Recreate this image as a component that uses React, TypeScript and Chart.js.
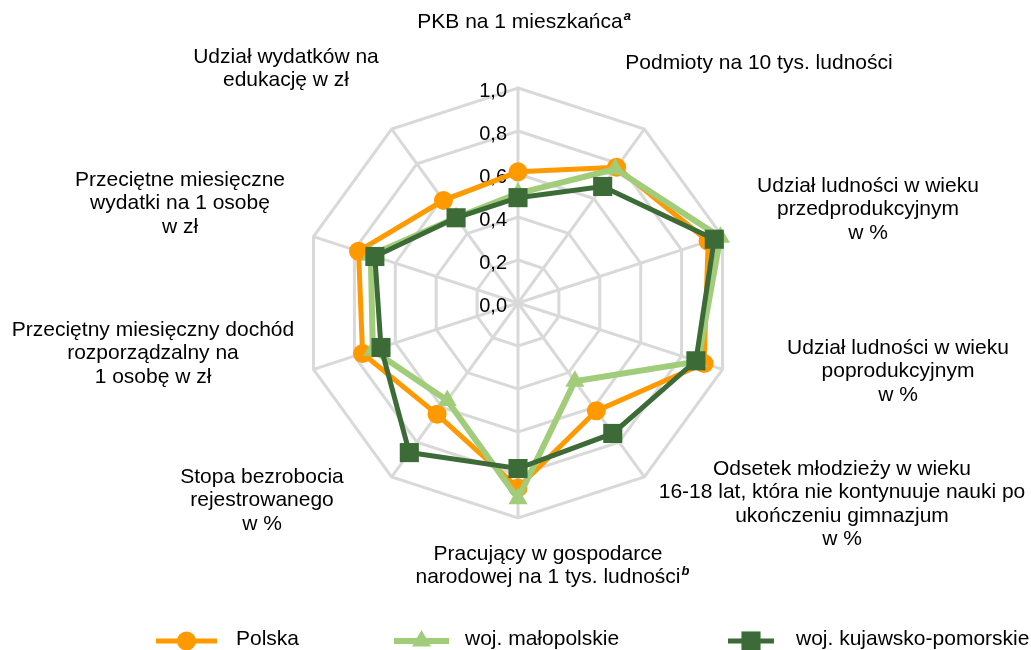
import React, { useEffect, useRef } from "react";
import { Chart, registerables } from "chart.js";

Chart.register(...registerables);

// ---- data ----
const categoryLines: string[][] = [
  ["PKB na 1 mieszkańca"],
  ["Podmioty na 10 tys. ludności"],
  ["Udział ludności w wieku", "przedprodukcyjnym", "w %"],
  ["Udział ludności w wieku", "poprodukcyjnym", "w %"],
  ["Odsetek młodzieży w wieku", "16-18 lat, która nie kontynuuje nauki po", "ukończeniu gimnazjum", "w %"],
  ["Pracujący w gospodarce", "narodowej na 1 tys. ludności"],
  ["Stopa bezrobocia", "rejestrowanego", "w %"],
  ["Przeciętny miesięczny dochód", "rozporządzalny na", "1 osobę w zł"],
  ["Przeciętne miesięczne", "wydatki na 1 osobę", "w zł"],
  ["Udział wydatków na", "edukację w zł"],
];
const categoryNotes: string[] = ["a", "", "", "", "", "b", "", "", "", ""];

const seriesNames = ["Polska", "woj. małopolskie", "woj. kujawsko-pomorskie"];
const polska = [0.61, 0.78, 0.93, 0.91, 0.62, 0.86, 0.64, 0.76, 0.78, 0.59];
const malopolskie = [0.51, 0.77, 0.99, 0.88, 0.45, 0.91, 0.56, 0.71, 0.72, 0.49];
const kujawskoPomorskie = [0.49, 0.67, 0.96, 0.87, 0.75, 0.77, 0.86, 0.67, 0.7, 0.49];

const tickValues = [0, 0.2, 0.4, 0.6, 0.8, 1.0];
const tickLabels = ["0,0", "0,2", "0,4", "0,6", "0,8", "1,0"];

// ---- styles / layout ----
const FONT = "'Liberation Sans', Arial, sans-serif";
const COLORS = ["#FF9900", "#A1CD7B", "#3C6B37"];
const LINE_WIDTHS = [5, 6, 5];
const POINT_STYLES = ["circle", "triangle", "rect"];
const POINT_RADII = [9.5, 11, 13.5];

// first-line centre of each axis title
const LABEL_POS = [
  { x: 520, y: 22 },
  { x: 759, y: 63 },
  { x: 868, y: 186 },
  { x: 898, y: 348 },
  { x: 842, y: 469 },
  { x: 548, y: 554 },
  { x: 262, y: 477 },
  { x: 153, y: 330 },
  { x: 180, y: 180 },
  { x: 286, y: 57 },
];
const LINE_H = 23.5;

const LEGEND_POS = [
  { x1: 156, x2: 217, text: 236 },
  { x1: 394, x2: 449, text: 465 },
  { x1: 728, x2: 774, text: 796 },
];
const LEGEND_Y = 641;

function drawMarker(ctx: CanvasRenderingContext2D, style: string, x: number, y: number, r: number, color: string) {
  ctx.save();
  ctx.fillStyle = color;
  ctx.beginPath();
  if (style === "circle") {
    ctx.arc(x, y, r, 0, Math.PI * 2);
  } else if (style === "triangle") {
    ctx.moveTo(x, y - r);
    ctx.lineTo(x + r * Math.sin(Math.PI / 3), y + r * 0.5);
    ctx.lineTo(x - r * Math.sin(Math.PI / 3), y + r * 0.5);
    ctx.closePath();
  } else {
    const s = r * Math.SQRT1_2;
    ctx.rect(x - s, y - s, 2 * s, 2 * s);
  }
  ctx.fill();
  ctx.restore();
}

const decorPlugin = {
  id: "decor",
  beforeDatasetsDraw(chart: any) {
    const ctx: CanvasRenderingContext2D = chart.ctx;
    const scale = chart.scales.r;
    ctx.save();
    ctx.font = `20px ${FONT}`;
    ctx.fillStyle = "#000";
    ctx.textAlign = "right";
    ctx.textBaseline = "middle";
    tickValues.forEach((v, i) => {
      const y = scale.yCenter - scale.getDistanceFromCenterForValue(v);
      ctx.fillText(tickLabels[i], scale.xCenter - 11, y + 3);
    });
    ctx.restore();
  },
  afterDraw(chart: any) {
    const ctx: CanvasRenderingContext2D = chart.ctx;
    ctx.save();
    ctx.fillStyle = "#000";
    ctx.textBaseline = "middle";
    categoryLines.forEach((lines, i) => {
      const p = LABEL_POS[i];
      lines.forEach((line, j) => {
        ctx.font = `21px ${FONT}`;
        ctx.textAlign = "center";
        const y = p.y + j * LINE_H;
        ctx.fillText(line, p.x, y);
        if (j === lines.length - 1 && categoryNotes[i]) {
          const w = ctx.measureText(line).width;
          ctx.font = `italic bold 13px ${FONT}`;
          ctx.textAlign = "left";
          ctx.fillText(categoryNotes[i], p.x + w / 2 + 1, y - 6);
        }
      });
    });
    // legend
    seriesNames.forEach((name, i) => {
      const lp = LEGEND_POS[i];
      ctx.strokeStyle = COLORS[i];
      ctx.lineWidth = LINE_WIDTHS[i];
      ctx.beginPath();
      ctx.moveTo(lp.x1, LEGEND_Y);
      ctx.lineTo(lp.x2, LEGEND_Y);
      ctx.stroke();
      drawMarker(ctx, POINT_STYLES[i], (lp.x1 + lp.x2) / 2, LEGEND_Y, POINT_RADII[i], COLORS[i]);
      ctx.font = `21px ${FONT}`;
      ctx.textAlign = "left";
      ctx.fillStyle = "#000";
      ctx.fillText(name, lp.text, LEGEND_Y - 2);
    });
    ctx.restore();
  },
};

export default function App() {
  const ref = useRef<HTMLCanvasElement | null>(null);

  useEffect(() => {
    if (!ref.current) return;
    const seriesData = [polska, malopolskie, kujawskoPomorskie];
    const chart = new Chart(ref.current, {
      type: "radar",
      data: {
        labels: categoryLines.map((l) => l.join(" ")),
        datasets: seriesData.map((d, i) => ({
          label: seriesNames[i],
          data: d,
          borderColor: COLORS[i],
          backgroundColor: COLORS[i],
          borderWidth: LINE_WIDTHS[i],
          fill: false,
          tension: 0,
          pointStyle: POINT_STYLES[i] as any,
          pointRadius: POINT_RADII[i],
          pointBackgroundColor: COLORS[i],
          pointBorderColor: COLORS[i],
          pointBorderWidth: 0,
          order: 3 - i,
        })),
      },
      options: {
        responsive: true,
        maintainAspectRatio: false,
        animation: false,
        layout: { padding: { left: 303, right: 298, top: 88, bottom: 132 } },
        plugins: {
          legend: { display: false },
          tooltip: { enabled: false },
        },
        scales: {
          r: {
            min: 0,
            max: 1,
            ticks: { display: false, stepSize: 0.2 },
            grid: { color: "#D9D9D9", lineWidth: 3 },
            angleLines: { color: "#D9D9D9", lineWidth: 3 },
            pointLabels: { display: false },
          },
        },
      },
      plugins: [decorPlugin],
    });
    return () => chart.destroy();
  }, []);

  return (
    <div style={{ position: "absolute", left: 0, top: 0, width: 1031, height: 650, background: "#fff" }}>
      <canvas ref={ref} style={{ display: "block" }} />
    </div>
  );
}
